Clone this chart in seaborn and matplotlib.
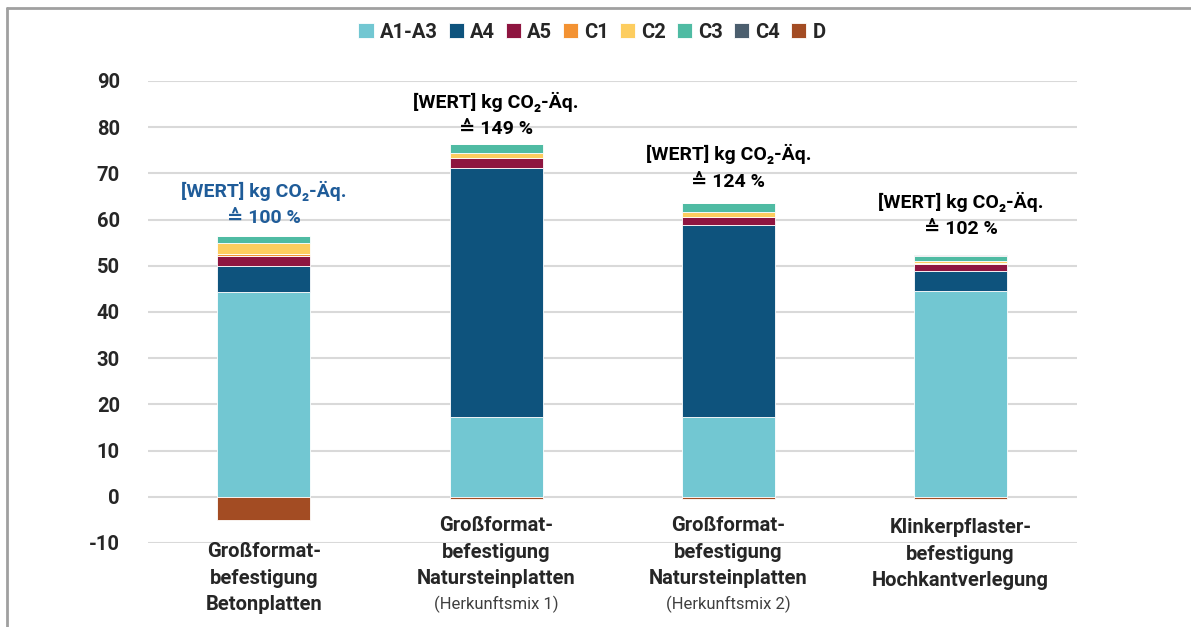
import numpy as np
import matplotlib.pyplot as plt
import matplotlib.lines as mlines
import matplotlib.transforms as mtransforms
import seaborn as sns

# categories (bold part of the label) and the small origin note under it
categories = [
    "Großformat-\nbefestigung\nBetonplatten",
    "Großformat-\nbefestigung\nNatursteinplatten",
    "Großformat-\nbefestigung\nNatursteinplatten",
    "Klinkerpflaster-\nbefestigung\nHochkantverlegung",
]
notes = ["", "(Herkunftsmix 1)", "(Herkunftsmix 2)", ""]
percent_labels = ["≙ 100 %", "≙ 149 %", "≙ 124 %", "≙ 102 %"]

# life cycle modules, kg CO2-eq
modules = ["A1-A3", "A4", "A5", "C1", "C2", "C3", "C4", "D"]
a1_a3 = [44.4, 17.3, 17.3, 44.6]
a4 = [5.6, 53.8, 41.5, 4.2]
a5 = [2.2, 2.2, 1.7, 1.6]
c1 = [0.4, 0.1, 0.1, 0.2]
c2 = [2.3, 1.0, 1.0, 0.5]
c3 = [1.6, 1.9, 1.9, 1.1]
c4 = [0.0, 0.0, 0.0, 0.2]
d = [-5.1, -0.4, -0.4, -0.5]

colors = ["#72C7D2", "#0E537D", "#8E1540", "#F39232",
          "#FDCD5F", "#4FBBA3", "#4B5E6E", "#A34C23"]

# layout tweaks: top of each category label (figure px) and value label offsets (pt)
label_top_px = [542, 516, 516, 518]
value_offset_pt = [6, 4.5, 9, 12]

sns.set_style("white")
plt.rcParams["font.family"] = ["Roboto", "DejaVu Sans"]
plt.rcParams["axes.unicode_minus"] = False

fig = plt.figure(figsize=(11.91, 6.27), dpi=100)
ax = fig.add_axes([0.124, 0.134, 0.780, 0.737])

x = np.arange(len(categories))
series = [a1_a3, a4, a5, c1, c2, c3, c4, d]
bottom = np.zeros(len(categories))
for name, vals, col in zip(modules, series, colors):
    vals = np.array(vals, dtype=float)
    if name == "D":
        b = np.zeros(len(categories))
    else:
        b = bottom.copy()
        bottom = bottom + vals
    sns.barplot(x=x, y=vals, bottom=b, color=col, width=0.4, label=name,
                edgecolor="white", linewidth=0.6, saturation=1, ax=ax,
                native_scale=True)

handles, labels = ax.get_legend_handles_labels()
if ax.get_legend() is not None:
    ax.get_legend().remove()

totals = bottom
ax.set_xlim(-0.5, 3.5)
ax.set_ylim(-10, 90)
ax.set_yticks(np.arange(-10, 91, 10))
ax.yaxis.grid(True, color="#d9d9d9", linewidth=1.5)
ax.set_axisbelow(True)
sns.despine(ax=ax, left=True, bottom=True)
ax.tick_params(axis="both", length=0)
ax.tick_params(axis="y", pad=20)
for lab in ax.get_yticklabels():
    lab.set_fontsize(14.5)
    lab.set_fontweight("bold")

ax.set_xticks(x)
ax.set_xticklabels([])
ax.set_xlabel("")
ax.set_ylabel("")

trans = mtransforms.blended_transform_factory(ax.transData, fig.transFigure)
for xi, cat, note, top in zip(x, categories, notes, label_top_px):
    ax.text(xi, 1 - top / 627, cat, transform=trans, ha="center", va="top",
            fontsize=14.5, fontweight="bold", linespacing=1.5)
    if note:
        ax.text(xi, 1 - 604 / 627, note, transform=trans, ha="center", va="center",
                fontsize=12, color="#404040")

# value labels above the bars
for i, (xi, tot, pct, off) in enumerate(zip(x, totals, percent_labels, value_offset_pt)):
    col = "#1F5C99" if i == 0 else "black"
    ax.annotate("[WERT] kg CO₂-Äq.\n" + pct, xy=(xi, tot), xytext=(0, off),
                textcoords="offset points", ha="center", va="bottom",
                fontsize=14, fontweight="bold", color=col, linespacing=1.6)

fig.legend(handles, labels, loc="center", bbox_to_anchor=(0.497, 1 - 32 / 627),
           ncol=8, frameon=False, handlelength=0.75, handleheight=0.75,
           handletextpad=0.3, columnspacing=0.55,
           prop={"weight": "bold", "size": 14.5})

# frame lines (top and left)
fig.add_artist(mlines.Line2D([7 / 1191, 1], [1 - 8 / 627, 1 - 8 / 627],
                             transform=fig.transFigure, color="#a0a0a0", lw=2))
fig.add_artist(mlines.Line2D([7 / 1191, 7 / 1191], [0, 1 - 8 / 627],
                             transform=fig.transFigure, color="#a0a0a0", lw=2))

fig.savefig("out.png", dpi=100)
